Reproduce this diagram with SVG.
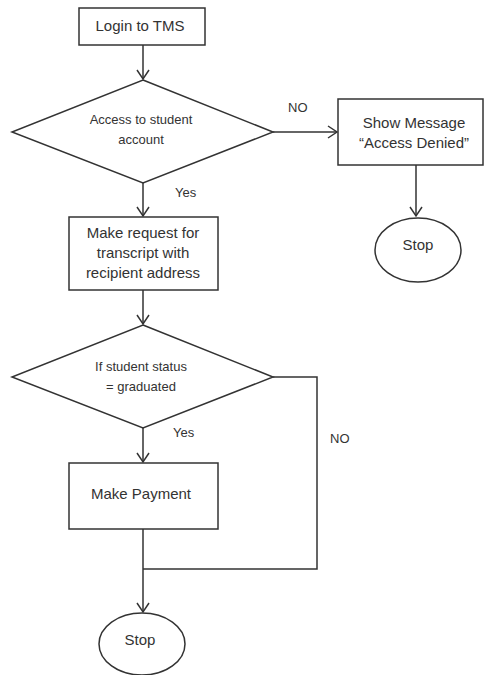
<svg xmlns="http://www.w3.org/2000/svg" width="484" height="675" viewBox="0 0 484 675">
<defs>
<style>
.s{fill:#fff;stroke:#333;stroke-width:1.5}
.c{fill:none;stroke:#333;stroke-width:1.5}
.t{font-family:"Liberation Sans",Arial,sans-serif;font-size:15px;fill:#333;text-anchor:middle}
.sm{font-size:13px}
.l{font-family:"Liberation Sans",Arial,sans-serif;font-size:13px;fill:#333}
</style>
<marker id="a" markerWidth="12" markerHeight="14" refX="10" refY="7" orient="auto" markerUnits="userSpaceOnUse">
<path d="M1,1 L10,7 L1,13" fill="none" stroke="#333" stroke-width="1.5"/>
</marker>
</defs>
<rect width="484" height="675" fill="#fff"/>
<g id="connectors">
<line class="c" x1="143" y1="45" x2="143" y2="79" marker-end="url(#a)"/>
<line class="c" x1="273" y1="132" x2="337" y2="132" marker-end="url(#a)"/>
<line class="c" x1="416" y1="165" x2="416" y2="216" marker-end="url(#a)"/>
<line class="c" x1="143" y1="183" x2="143" y2="216" marker-end="url(#a)"/>
<line class="c" x1="143" y1="290" x2="143" y2="324" marker-end="url(#a)"/>
<line class="c" x1="143" y1="428" x2="143" y2="462" marker-end="url(#a)"/>
<polyline class="c" points="273,377 317,377 317,569 143,569"/>
<line class="c" x1="143" y1="529" x2="143" y2="612" marker-end="url(#a)"/>
<text class="l" x="288" y="112">NO</text>
<text class="l" x="175" y="197">Yes</text>
<text class="l" x="173" y="437">Yes</text>
<text class="l" x="330" y="443">NO</text>
</g>
<g id="login">
<rect class="s" x="79" y="8" width="126" height="37"/>
<text class="t" x="140" y="31">Login to TMS</text>
</g>
<g id="access">
<polygon class="s" points="143,80 273,132 143,183 12,132"/>
<text class="t sm" x="141" y="124">Access to student</text>
<text class="t sm" x="141" y="144">account</text>
</g>
<g id="denied">
<rect class="s" x="338" y="99" width="145" height="66"/>
<text class="t" x="414" y="128">Show Message</text>
<text class="t" x="414" y="148">“Access Denied”</text>
</g>
<g id="stop1">
<ellipse class="s" cx="418" cy="250" rx="43" ry="32"/>
<text class="t" x="418" y="250">Stop</text>
</g>
<g id="request">
<rect class="s" x="69" y="217" width="149" height="73"/>
<text class="t" x="143" y="238">Make request for</text>
<text class="t" x="143" y="258">transcript with</text>
<text class="t" x="143" y="278">recipient address</text>
</g>
<g id="status">
<polygon class="s" points="143,325 273,377 143,428 12,377"/>
<text class="t sm" x="141" y="371">If student status</text>
<text class="t sm" x="141" y="391">= graduated</text>
</g>
<g id="payment">
<rect class="s" x="69" y="463" width="149" height="66"/>
<text class="t" x="141" y="499">Make Payment</text>
</g>
<g id="stop2">
<ellipse class="s" cx="142" cy="644" rx="43" ry="31"/>
<text class="t" x="140" y="645">Stop</text>
</g>
</svg>
